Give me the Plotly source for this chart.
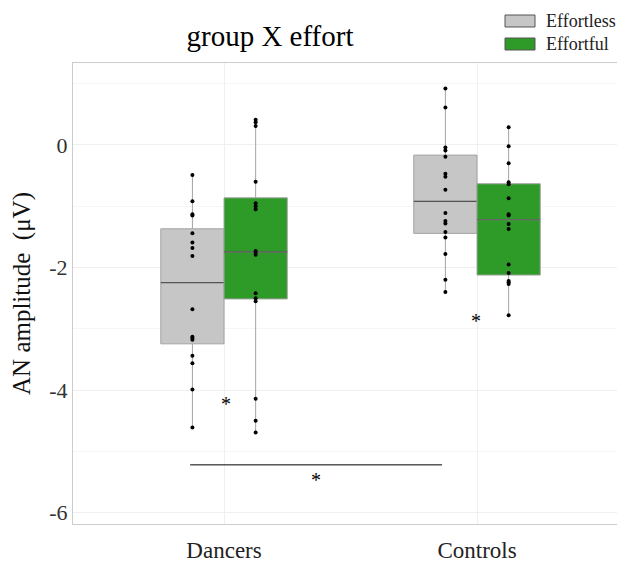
import numpy as np
import plotly.graph_objects as go

groups = ["Dancers", "Controls"]

dancers_effortless = [-0.49, -0.92, -1.13, -1.15, -1.44, -1.59, -1.68, -1.81,
                      -2.68, -3.13, -3.15, -3.18, -3.44, -3.56, -3.99, -4.61]
dancers_effortful = [0.41, 0.37, 0.31, -0.60, -0.95, -1.00, -1.05, -1.73,
                     -1.76, -1.79, -2.42, -2.50, -2.55, -4.14, -4.50, -4.69]
controls_effortless = [0.92, 0.61, -0.04, -0.09, -0.19, -0.47, -0.52, -0.73,
                       -1.11, -1.24, -1.28, -1.42, -1.51, -1.78, -2.20, -2.40]
controls_effortful = [0.29, -0.02, -0.30, -0.61, -0.64, -0.87, -1.13, -1.15,
                      -1.29, -1.37, -1.95, -2.09, -2.22, -2.24, -2.27, -2.78]

series_names = ["Effortless", "Effortful"]
series_colors = ["#c6c6c6", "#2e9a27"]

FONT = "Liberation Serif"
OFF = 8                      # page body margin of the browser
W, H = 625 - OFF, 563 - OFF  # figure fits the window exactly
PL, PR, PT, PB = 73, 624, 63, 524  # plot area in window pixels


def box_stats(values):
    v = np.asarray(values, dtype=float)
    q1, med, q3 = np.percentile(v, [25, 50, 75])  # same rule as R / ggplot
    iqr = q3 - q1
    lo = v[v >= q1 - 1.5 * iqr].min()
    hi = v[v <= q3 + 1.5 * iqr].max()
    return q1, med, q3, lo, hi


fig = go.Figure()
data = [
    (dancers_effortless, controls_effortless),
    (dancers_effortful, controls_effortful),
]
for name, color, (d, c) in zip(series_names, series_colors, data):
    stats = [box_stats(d), box_stats(c)]
    q1 = [s[0] for s in stats]
    med = [s[1] for s in stats]
    q3 = [s[2] for s in stats]
    lo = [s[3] for s in stats]
    hi = [s[4] for s in stats]
    # box, whiskers
    fig.add_trace(go.Box(
        x=groups, q1=q1, median=med, q3=q3, lowerfence=lo, upperfence=hi,
        name=name, offsetgroup=name, fillcolor=color,
        line=dict(color="#a3a3a3", width=1), whiskerwidth=0,
        showlegend=False, hoverinfo="skip",
    ))
    # darker median line
    fig.add_trace(go.Box(
        x=groups, q1=med, median=med, q3=med, lowerfence=med, upperfence=med,
        name=name, offsetgroup=name, fillcolor="rgba(0,0,0,0)",
        line=dict(color="#555555", width=1.2), whiskerwidth=0,
        showlegend=False, hoverinfo="skip",
    ))
    # the individual points
    fig.add_trace(go.Box(
        x=[groups[0]] * len(d) + [groups[1]] * len(c),
        y=d + c,
        name=name, offsetgroup=name,
        fillcolor="rgba(0,0,0,0)",
        line=dict(color="rgba(0,0,0,0)", width=0),
        marker=dict(color="black", size=4),
        boxpoints="all", jitter=0, pointpos=0, whiskerwidth=0,
        showlegend=False,
    ))

fig.update_layout(
    width=W, height=H,
    boxmode="group", boxgap=0.5, boxgroupgap=0,
    paper_bgcolor="white", plot_bgcolor="white",
    margin=dict(l=PL - OFF, r=W - (PR - OFF), t=PT - OFF, b=H - (PB - OFF), autoexpand=False),
    font=dict(family=FONT, color="#111111"),
    title=dict(text="group X effort", x=(270 - OFF) / W, xanchor="center",
               y=1 - (36 - OFF) / H, yanchor="middle",
               font=dict(family=FONT, size=29, color="black")),
    showlegend=False,
)
fig.update_xaxes(
    categoryorder="array", categoryarray=groups,
    range=[-0.597, 1.581],
    showgrid=True, gridcolor="#efefef", gridwidth=1,
    showline=True, linecolor="#cccccc", mirror=True,
    ticks="", tickfont=dict(family=FONT, size=23, color="#222222"),
    ticklabelstandoff=5,
    zeroline=False,
)
fig.update_yaxes(
    range=[-6.185, 1.338],
    tickvals=[0, -2, -4, -6], ticktext=["0", "-2", "-4", "-6"],
    showgrid=True, gridcolor="#efefef", gridwidth=1,
    minor=dict(tickvals=[1, -1, -3, -5], showgrid=True, gridcolor="#f6f6f6"),
    showline=True, linecolor="#cccccc", mirror=True,
    ticks="", tickfont=dict(family=FONT, size=22, color="#333333"),
    title=dict(text="AN amplitude  (μV)", font=dict(family=FONT, size=25, color="#111111"),
               standoff=12),
    zeroline=False,
)


# manual legend: paper coordinates are relative to the plot area
def px(x):
    return (x - PL) / (PR - PL)


def py(y):
    return (PB - y) / (PB - PT)


legend_rows = [(21, series_names[0], series_colors[0]), (44, series_names[1], series_colors[1])]
for cy, name, color in legend_rows:
    fig.add_shape(type="rect", xref="paper", yref="paper",
                  x0=px(505), x1=px(535), y0=py(cy + 6), y1=py(cy - 6),
                  fillcolor=color, line=dict(color="#555555", width=1))
    fig.add_annotation(xref="paper", yref="paper", x=px(544), y=py(cy), text=name,
                       xanchor="left", yanchor="middle", showarrow=False,
                       font=dict(family=FONT, size=18, color="#222222"))

# significance markers
fig.add_shape(type="line", xref="x", yref="y", x0=-0.134, x1=0.862, y0=-5.22, y1=-5.22,
              line=dict(color="black", width=1))
stars = [(0.008, -4.22), (0.996, -2.88), (0.364, -5.47)]
for sx, sy in stars:
    fig.add_annotation(x=sx, y=sy, xref="x", yref="y", text="*", showarrow=False,
                       font=dict(family=FONT, size=20, color="black"))

fig.write_html("out.html")
